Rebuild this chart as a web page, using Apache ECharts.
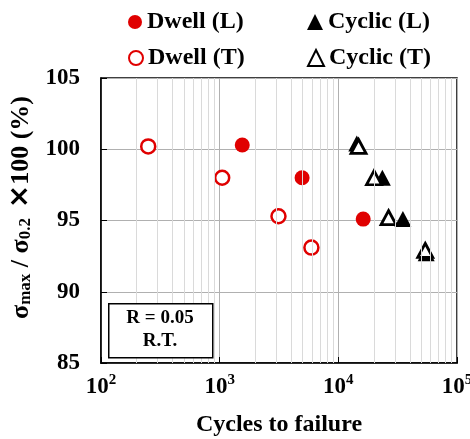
<!DOCTYPE html>
<html>
<head>
<meta charset="utf-8">
<script src="https://cdn.jsdelivr.net/npm/echarts@6/dist/echarts.min.js"></script>
<style>html,body{margin:0;padding:0;background:#fff}#c{width:470px;height:439px}</style>
</head>
<body>
<div id="c"></div>
<script>
// Data: [cycles to failure, sigma_max/sigma_0.2 x 100 (%)]
const dwellL = [[1550, 100.3], [4950, 98.0], [16200, 95.1]];
const dwellT = [[250, 100.2], [1050, 98.0], [3130, 95.3], [5930, 93.1]];
const cyclicL = [[14300, 100.4], [23500, 98.0], [35000, 95.1], [55000, 92.7]];
const cyclicT = [[14800, 100.2], [20000, 98.0], [26500, 95.2], [54000, 92.9]];
const xTicks = [100, 1000, 10000, 100000];
const xMinor = [200, 300, 400, 500, 600, 700, 800, 900, 2000, 3000, 4000, 5000, 6000, 7000, 8000, 9000, 20000, 30000, 40000, 50000, 60000, 70000, 80000, 90000];
const yTicks = [85, 90, 95, 100, 105];

const FONT = '"Liberation Serif", "Times New Roman", serif';
const RED = '#e00000';
const chart = echarts.init(document.getElementById('c'));

function legendAt(name, left, top, w) {
  return {
    data: [name], left: left, top: top, itemWidth: w, itemHeight: w, itemGap: 0,
    selectedMode: false, padding: 0,
    textStyle: {fontFamily: FONT, fontWeight: 'bold', fontSize: 24, color: '#000', padding: [0, 0, 0, 0]}
  };
}

chart.setOption({
  animation: false,
  backgroundColor: '#fff',
  grid: {left: 101, right: 13, top: 78, bottom: 76, outerBoundsMode: 'none', containLabel: false, show: true, borderColor: '#000', borderWidth: 1.5, backgroundColor: 'transparent'},
  legend: [
    legendAt('Dwell (L)', 128, 10, 14),
    legendAt('Cyclic (L)', 307, 10, 16),
    legendAt('Dwell (T)', 128, 46, 14),
    legendAt('Cyclic (T)', 307, 46, 16)
  ],
  xAxis: {
    type: 'log', logBase: 10, min: 100, max: 100000,
    name: 'Cycles to failure', nameLocation: 'middle', nameGap: 50,
    nameTextStyle: {fontFamily: FONT, fontWeight: 'bold', fontSize: 24, color: '#000'},
    axisLine: {show: true, lineStyle: {color: '#000', width: 1.5}},
    axisTick: {show: true, inside: true, length: 6, lineStyle: {color: '#000'}},
    splitLine: {show: true, lineStyle: {color: '#b0b0b0', width: 1}},
    axisLabel: {
      margin: 10,
      formatter: function (v) {
        const e = Math.round(Math.log10(v));
        return '{b|10}{s|' + e + '}';
      },
      rich: {
        b: {fontFamily: FONT, fontWeight: 'bold', fontSize: 23, color: '#000', lineHeight: 26, verticalAlign: 'bottom'},
        s: {fontFamily: FONT, fontWeight: 'bold', fontSize: 15, color: '#000', lineHeight: 26, verticalAlign: 'top', padding: [0, 0, 8, 0]}
      }
    }
  },
  yAxis: {
    type: 'value', min: 85, max: 105, interval: 5,
    name: '{g|σ}{sub|max}{g| / σ}{sub|0.2}{x| ×}{g|100 (%)}',
    nameLocation: 'middle', nameGap: 66, nameRotate: 90,
    nameTextStyle: {
      padding: [0, 0, 0, 26],
      rich: {
        g: {fontFamily: FONT, fontWeight: 'bold', fontSize: 26, color: '#000', lineHeight: 30, verticalAlign: 'bottom'},
        sub: {fontFamily: FONT, fontWeight: 'bold', fontSize: 17, color: '#000', lineHeight: 30, verticalAlign: 'bottom', padding: [9, 0, 0, 0]},
        x: {fontFamily: '"DejaVu Sans", sans-serif', fontWeight: 'bold', fontSize: 28, color: '#000', lineHeight: 30, verticalAlign: 'bottom'}
      }
    },
    axisLine: {show: true, lineStyle: {color: '#000', width: 1.5}},
    axisTick: {show: true, inside: true, length: 6, lineStyle: {color: '#000'}},
    splitLine: {show: true, lineStyle: {color: '#b0b0b0', width: 1}},
    axisLabel: {margin: 21, fontFamily: FONT, fontWeight: 'bold', fontSize: 23, color: '#000'}
  },
  series: [
    {
      name: 'minor', type: 'line', data: [], silent: true, z: 1,
      markLine: {
        silent: true, symbol: 'none', animation: false, label: {show: false},
        lineStyle: {color: '#dadada', width: 1, type: 'solid'},
        data: xMinor.map(v => ({xAxis: v}))
      }
    },
    {
      name: 'Dwell (L)', type: 'scatter', data: dwellL, symbol: 'circle', symbolSize: 15, z: 3,
      itemStyle: {color: RED, borderColor: RED, borderWidth: 0, opacity: 1}
    },
    {
      name: 'Dwell (T)', type: 'scatter', data: dwellT, symbol: 'circle', symbolSize: 14, z: 3,
      itemStyle: {color: '#fff', borderColor: RED, borderWidth: 2.5, opacity: 1}
    },
    {
      name: 'Cyclic (L)', type: 'scatter', data: cyclicL, symbol: 'triangle', symbolSize: [17, 16], z: 3,
      itemStyle: {color: '#000', borderColor: '#000', borderWidth: 0, opacity: 1}
    },
    {
      name: 'Cyclic (T)', type: 'scatter', data: cyclicT, symbol: 'triangle', symbolSize: [15, 14], z: 4,
      itemStyle: {color: '#fff', borderColor: '#000', borderWidth: 2.8, opacity: 1}
    }
  ],
  graphic: [
    {
      type: 'rect', left: 108, top: 303, z: 10,
      shape: {width: 104, height: 54},
      style: {fill: '#fff', stroke: '#000', lineWidth: 1.5}
    },
    {
      type: 'text', z: 11, x: 160, y: 307,
      style: {text: 'R = 0.05\nR.T.', fontFamily: FONT, fontWeight: 'bold', fontSize: 19, fill: '#000', align: 'center', verticalAlign: 'top', lineHeight: 23}
    }
  ]
});
</script>
</body>
</html>
